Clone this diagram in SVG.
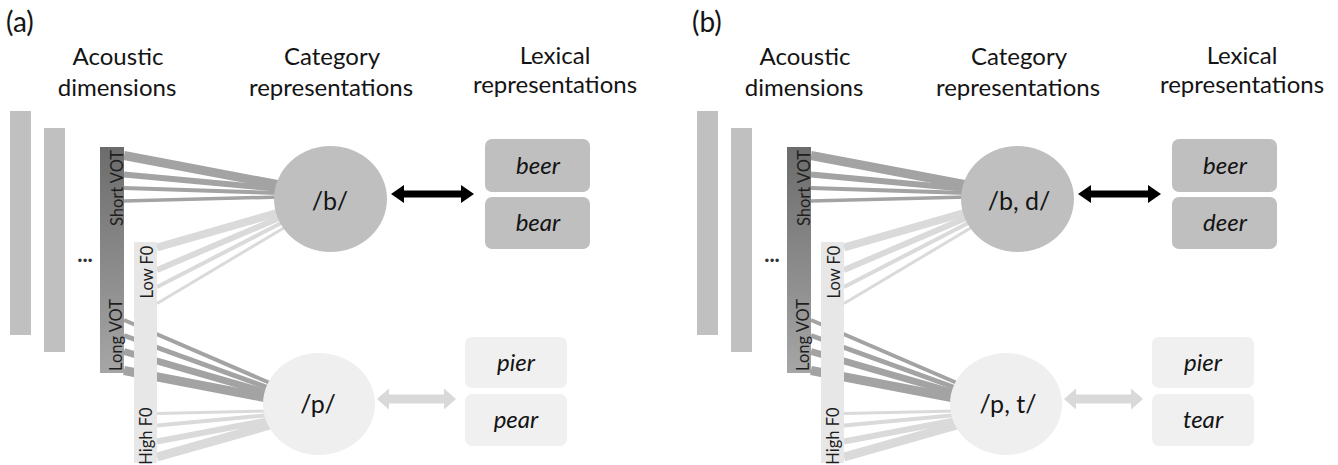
<svg xmlns="http://www.w3.org/2000/svg" width="1338" height="465" viewBox="0 0 1338 465">
  <style>
    text { font-family: Lato, "Liberation Sans", sans-serif; fill: #141414; }
    .panel { font-size: 28px; }
    .head { font-size: 24px; text-anchor: middle; }
    .dim { font-size: 16.5px; text-anchor: middle; fill: #1e1e1e; }
    .cat { font-size: 25px; text-anchor: middle; }
    .lex { font-size: 24px; font-style: italic; text-anchor: middle; }
    .more { font-size: 22px; font-weight: bold; text-anchor: middle; fill: #333333; }
    .back { fill: #c0c0c0; }
    .f0bar { fill: #e7e7e7; }
    .catB { fill: #bfbfbf; }
    .catP { fill: #efefef; }
    .lexB { fill: #bfbfbf; }
    .lexP { fill: #f0f0f0; }
    .vot { stroke: #a3a3a3; fill: none; }
    .f0 { stroke: #dadada; fill: none; }
    .arrowOn { fill: #000000; }
    .arrowOff { fill: #d9d9d9; }
  </style>
  <defs>
    <linearGradient id="votGrad" x1="0" y1="0" x2="0" y2="1">
      <stop offset="0" stop-color="#6c6c6c"/>
      <stop offset="1" stop-color="#a6a6a6"/>
    </linearGradient>
    <!-- links from the acoustic cues to the two category nodes -->
    <g id="cueLinks">
      <line class="vot" x1="124" y1="155.5" x2="280" y2="185" stroke-width="9"/>
      <line class="vot" x1="124" y1="174.5" x2="280" y2="189" stroke-width="6"/>
      <line class="vot" x1="124" y1="188" x2="280" y2="193" stroke-width="4"/>
      <line class="vot" x1="124" y1="201" x2="280" y2="197" stroke-width="3.5"/>
      <line class="f0" x1="157" y1="247.5" x2="284" y2="211" stroke-width="8"/>
      <line class="f0" x1="157" y1="270" x2="286" y2="215" stroke-width="6"/>
      <line class="f0" x1="157" y1="287" x2="289" y2="219" stroke-width="4"/>
      <line class="f0" x1="157" y1="303.5" x2="292" y2="223" stroke-width="3"/>
      <line class="vot" x1="124" y1="320" x2="270" y2="383" stroke-width="4"/>
      <line class="vot" x1="124" y1="335.5" x2="269" y2="388" stroke-width="5"/>
      <line class="vot" x1="124" y1="351.5" x2="268" y2="393" stroke-width="7"/>
      <line class="vot" x1="124" y1="370.5" x2="267" y2="398" stroke-width="9"/>
      <line class="f0" x1="157" y1="413.5" x2="270" y2="411" stroke-width="3"/>
      <line class="f0" x1="157" y1="425.5" x2="270" y2="415" stroke-width="4"/>
      <line class="f0" x1="157" y1="441.5" x2="270" y2="420" stroke-width="6"/>
      <line class="f0" x1="157" y1="457" x2="270" y2="425" stroke-width="9"/>
    </g>
  </defs>

  <!-- ===================== panel (a) ===================== -->
  <g id="panel-a">
    <text class="panel" x="6" y="32">(a)</text>
    <text class="head" x="118" y="65">Acoustic</text>
    <text class="head" x="117" y="96">dimensions</text>
    <text class="head" x="332" y="65">Category</text>
    <text class="head" x="331" y="96">representations</text>
    <text class="head" x="555" y="64">Lexical</text>
    <text class="head" x="555" y="93">representations</text>

    <g id="a-connectors">
      <use href="#cueLinks"/>
      <polygon id="a-link-b" class="arrowOn" points="391,194 404,185 404,190.5 461,190.5 461,185 474,194 461,203 461,197.5 404,197.5 404,203"/>
      <polygon id="a-link-p" class="arrowOff" points="377,399 389,388.5 389,394.5 444,394.5 444,388.5 456,399 444,409.5 444,403.5 389,403.5 389,409.5"/>
    </g>

    <g id="a-dim-other1"><rect class="back" x="10" y="111" width="21" height="224"/></g>
    <g id="a-dim-other2"><rect class="back" x="44" y="128" width="21" height="224"/></g>
    <g id="a-dim-more"><text class="more" x="85" y="262">...</text></g>
    <g id="a-dim-vot">
      <rect x="100" y="147" width="24" height="226" fill="url(#votGrad)"/>
      <text class="dim" transform="translate(122.5,188) rotate(-90)">Short VOT</text>
      <text class="dim" transform="translate(121.5,335) rotate(-90)">Long VOT</text>
    </g>
    <g id="a-dim-f0">
      <rect class="f0bar" x="134" y="242" width="23" height="221"/>
      <text class="dim" transform="translate(153,272) rotate(-90)">Low F0</text>
      <text class="dim" transform="translate(152,436) rotate(-90)">High F0</text>
    </g>
    <g id="a-cat-b">
      <ellipse class="catB" cx="330.5" cy="199" rx="56.5" ry="53"/>
      <text class="cat" x="330" y="210">/b/</text>
    </g>
    <g id="a-cat-p">
      <ellipse class="catP" cx="319" cy="404" rx="56" ry="51"/>
      <text class="cat" x="318" y="413">/p/</text>
    </g>
    <g id="a-lex-beer">
      <rect class="lexB" x="485" y="139" width="105" height="53" rx="7"/>
      <text class="lex" x="538" y="174">beer</text>
    </g>
    <g id="a-lex-bear">
      <rect class="lexB" x="485" y="197" width="105" height="52" rx="7"/>
      <text class="lex" x="538" y="231">bear</text>
    </g>
    <g id="a-lex-pier">
      <rect class="lexP" x="465" y="337" width="102" height="51" rx="7"/>
      <text class="lex" x="516" y="371">pier</text>
    </g>
    <g id="a-lex-pear">
      <rect class="lexP" x="465" y="394" width="102" height="52" rx="7"/>
      <text class="lex" x="516" y="428">pear</text>
    </g>
  </g>

  <!-- ===================== panel (b) ===================== -->
  <g id="panel-b" transform="translate(687,0)">
    <text class="panel" x="5" y="32">(b)</text>
    <text class="head" x="118" y="65">Acoustic</text>
    <text class="head" x="117" y="96">dimensions</text>
    <text class="head" x="332" y="65">Category</text>
    <text class="head" x="331" y="96">representations</text>
    <text class="head" x="555" y="64">Lexical</text>
    <text class="head" x="555" y="93">representations</text>

    <g id="b-connectors">
      <use href="#cueLinks"/>
      <polygon id="b-link-bd" class="arrowOn" points="391,194 404,185 404,190.5 461,190.5 461,185 474,194 461,203 461,197.5 404,197.5 404,203"/>
      <polygon id="b-link-pt" class="arrowOff" points="377,399 389,388.5 389,394.5 444,394.5 444,388.5 456,399 444,409.5 444,403.5 389,403.5 389,409.5"/>
    </g>

    <g id="b-dim-other1"><rect class="back" x="10" y="111" width="21" height="224"/></g>
    <g id="b-dim-other2"><rect class="back" x="44" y="128" width="21" height="224"/></g>
    <g id="b-dim-more"><text class="more" x="85" y="262">...</text></g>
    <g id="b-dim-vot">
      <rect x="100" y="147" width="24" height="226" fill="url(#votGrad)"/>
      <text class="dim" transform="translate(122.5,188) rotate(-90)">Short VOT</text>
      <text class="dim" transform="translate(121.5,335) rotate(-90)">Long VOT</text>
    </g>
    <g id="b-dim-f0">
      <rect class="f0bar" x="134" y="242" width="23" height="221"/>
      <text class="dim" transform="translate(153,272) rotate(-90)">Low F0</text>
      <text class="dim" transform="translate(152,436) rotate(-90)">High F0</text>
    </g>
    <g id="b-cat-bd">
      <ellipse class="catB" cx="330.5" cy="199" rx="56.5" ry="53"/>
      <text class="cat" x="332" y="210">/b, d/</text>
    </g>
    <g id="b-cat-pt">
      <ellipse class="catP" cx="319" cy="404" rx="56" ry="51"/>
      <text class="cat" x="321" y="413">/p, t/</text>
    </g>
    <g id="b-lex-beer">
      <rect class="lexB" x="485" y="139" width="105" height="53" rx="7"/>
      <text class="lex" x="538" y="174">beer</text>
    </g>
    <g id="b-lex-deer">
      <rect class="lexB" x="485" y="197" width="105" height="52" rx="7"/>
      <text class="lex" x="538" y="231">deer</text>
    </g>
    <g id="b-lex-pier">
      <rect class="lexP" x="465" y="337" width="102" height="51" rx="7"/>
      <text class="lex" x="516" y="371">pier</text>
    </g>
    <g id="b-lex-tear">
      <rect class="lexP" x="465" y="394" width="102" height="52" rx="7"/>
      <text class="lex" x="516" y="428">tear</text>
    </g>
  </g>
</svg>
